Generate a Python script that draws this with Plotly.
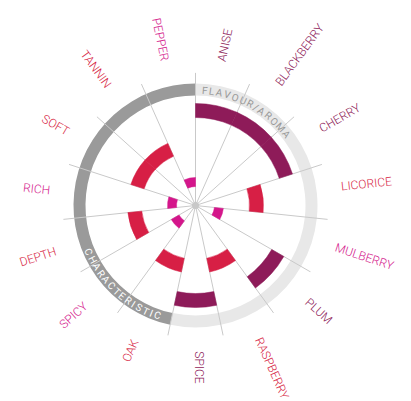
import math
import plotly.graph_objects as go

# ---------------- data ----------------
categories = ["ANISE", "BLACKBERRY", "CHERRY", "LICORICE", "MULBERRY", "PLUM",
              "RASPBERRY", "SPICE", "OAK", "SPICY", "DEPTH", "RICH", "SOFT",
              "TANNIN", "PEPPER"]
intensity = [3, 3, 3, 2, 1, 3, 2, 3, 2, 1, 2, 1, 2, 2, 1]
group = ["FLAVOUR/AROMA"] * 8 + ["CHARACTERISTIC"] * 7
groups = ["FLAVOUR/AROMA", "CHARACTERISTIC"]

# ---------------- style / geometry ----------------
W, H = 411, 401
CX, CY = 195.5, 205.5
R = 133
level_band = {1: (19, 28), 2: (54, 68), 3: (88, 102)}
level_color = {1: "#D4168B", 2: "#D71F45", 3: "#8E1B59"}
ring_band = (110, 122)
ring_color = {"FLAVOUR/AROMA": "#E8E8E8", "CHARACTERISTIC": "#9A9A9A"}
ring_text_color = {"FLAVOUR/AROMA": "#999999", "CHARACTERISTIC": "#FFFFFF"}
ring_text_span = {"FLAVOUR/AROMA": (4.8, 52.0), "CHARACTERISTIC": (246.3, 198.8)}
FONT = "Roboto"

EM = {"A": .66, "B": .64, "C": .65, "D": .66, "E": .57, "F": .56, "H": .71,
      "I": .29, "K": .64, "L": .54, "M": .87, "N": .71, "O": .69, "P": .63,
      "R": .63, "S": .61, "T": .61, "U": .66, "Y": .61, "V": .65, "/": .42}
TRACK = 0.3

n = len(categories)
step = 360.0 / n
theta = [step * (i + 0.5) for i in range(n)]


def to_paper(r, ang):
    a = math.radians(ang)
    x = CX + r * math.sin(a)
    y = CY - r * math.cos(a)
    return x / W, 1 - y / H


fig = go.Figure()

# outer group rings (bottom subplot)
for g in groups:
    idx = [i for i in range(n) if group[i] == g]
    start = step * idx[0]
    end = step * (idx[-1] + 1)
    fig.add_trace(go.Barpolar(
        r=[ring_band[1] - ring_band[0]], base=[ring_band[0]],
        theta=[(start + end) / 2], width=[end - start],
        marker=dict(color=ring_color[g], line=dict(width=0)),
        hoverinfo="skip", subplot="polar", showlegend=False))

# spokes at category boundaries
sr, st = [], []
for i in range(n):
    b = step * i
    sr += [0, R, None]
    st += [b, b, None]
fig.add_trace(go.Scatterpolar(r=sr, theta=st, mode="lines",
                              line=dict(color="#C9C9C9", width=1),
                              hoverinfo="skip", subplot="polar", showlegend=False))

# value bars (top subplot)
bases = [level_band[v][0] for v in intensity]
lens = [level_band[v][1] - level_band[v][0] for v in intensity]
cols = [level_color[v] for v in intensity]
fig.add_trace(go.Barpolar(
    r=lens, base=bases, theta=theta, width=[step] * n,
    marker=dict(color=cols, line=dict(color=cols, width=0.5)),
    hoverinfo="skip", subplot="polar2", showlegend=False))

# center dot
fig.add_trace(go.Scatterpolar(r=[0], theta=[0], mode="markers",
                              marker=dict(color="#C8C8C8", size=7),
                              hoverinfo="skip", subplot="polar2", showlegend=False))

annotations = []

# category labels
LAB_SIZE = 12
for cat, ang, v in zip(categories, theta, intensity):
    w = sum(EM.get(ch, .62) for ch in cat) * LAB_SIZE * 1.05
    if ang <= 180:
        r0 = 145
        tang = ang - 90
        off = 4.0   # shift counter-clockwise
    else:
        r0 = 146
        tang = ang - 270
        off = 0.0
    rc = r0 + w / 2
    a_off = math.degrees(off / rc)
    x, y = to_paper(rc, ang - a_off)
    annotations.append(dict(x=x, y=y, xref="paper", yref="paper", text=cat,
                            showarrow=False, textangle=tang,
                            xanchor="center", yanchor="middle",
                            font=dict(family=FONT, size=LAB_SIZE, weight=300,
                                      color=level_color[v])))

# curved ring titles
RT_SIZE = 10
for g in groups:
    a0, a1 = ring_text_span[g]
    ws = [EM.get(ch, .62) + TRACK for ch in g]
    cum = []
    c = 0
    for k, wch in enumerate(ws):
        if k == 0:
            cum.append(0)
        else:
            c += (ws[k - 1] + wch) / 2
            cum.append(c)
    total = cum[-1]
    outward = a1 > a0
    for ch, cpos in zip(g, cum):
        ang = a0 + (a1 - a0) * cpos / total
        if outward:
            rr = 115.5
            tang = ang
        else:
            rr = 116.5
            tang = ang - 180
        x, y = to_paper(rr, ang)
        annotations.append(dict(x=x, y=y, xref="paper", yref="paper", text=ch,
                                showarrow=False, textangle=tang,
                                xanchor="center", yanchor="middle",
                                font=dict(family=FONT, size=RT_SIZE, weight=400,
                                          color=ring_text_color[g])))

dom = dict(x=[(CX - R) / W, (CX + R) / W], y=[(H - CY - R) / H, (H - CY + R) / H])
polar_common = dict(
    domain=dom, hole=0,
    radialaxis=dict(visible=False, range=[0, R], showgrid=False),
    angularaxis=dict(visible=False, rotation=90, direction="clockwise",
                     showgrid=False, showline=False, showticklabels=False, ticks=""),
)

fig.update_layout(
    width=W, height=H,
    margin=dict(l=0, r=0, t=0, b=0),
    paper_bgcolor="white",
    polar=dict(bgcolor="white", **polar_common),
    polar2=dict(bgcolor="rgba(0,0,0,0)", **polar_common),
    annotations=annotations,
    showlegend=False,
)

fig.write_html("out.html", config={"displayModeBar": False},
               post_script="document.body.style.margin='0px';document.body.style.overflow='hidden';")
